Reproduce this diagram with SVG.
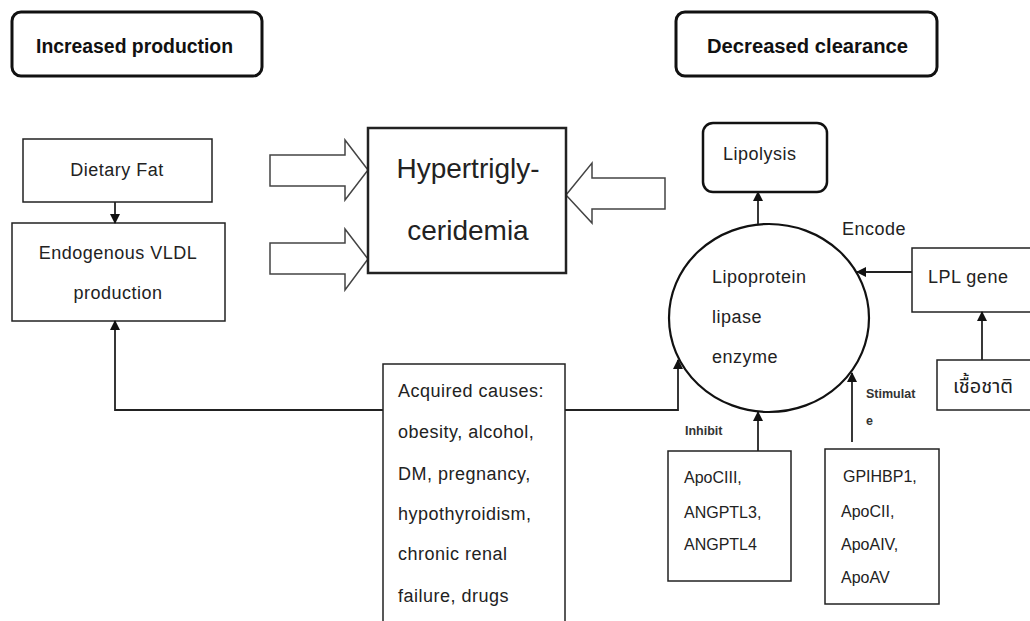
<svg xmlns="http://www.w3.org/2000/svg" width="1030" height="621" viewBox="0 0 1030 621">
<style>
.t{font-family:"Liberation Sans",Arial,sans-serif;font-size:18px;fill:#222;letter-spacing:0.5px}
.s{font-family:"Liberation Sans",Arial,sans-serif;font-size:16px;fill:#222}
.h{font-family:"Liberation Sans",Arial,sans-serif;font-size:20px;font-weight:bold;fill:#111}
.b{font-family:"Liberation Sans",Arial,sans-serif;font-size:12.5px;font-weight:bold;fill:#333}
.box{fill:#fff;stroke:#222;stroke-width:1.5}
.rbox{fill:#fff;stroke:#111;stroke-width:3}
.blk{fill:#fff;stroke:#444;stroke-width:1.5}
.c{fill:none;stroke:#222;stroke-width:1.8}
</style>
<defs>
<marker id="ah" markerWidth="10" markerHeight="10" refX="9" refY="5" orient="auto" markerUnits="userSpaceOnUse">
<path d="M0,0 L10,5 L0,10 Z" fill="#111"/>
</marker>
</defs>
<rect width="1030" height="621" fill="#fff"/>

<g id="header-production">
<rect class="rbox" x="12" y="12" width="250" height="64" rx="9"/>
<text class="h" x="36" y="53" textLength="197" lengthAdjust="spacingAndGlyphs">Increased production</text>
</g>
<g id="header-clearance">
<rect class="rbox" x="676" y="12" width="261" height="64" rx="9"/>
<text class="h" x="707" y="53" textLength="201" lengthAdjust="spacingAndGlyphs">Decreased clearance</text>
</g>

<g id="dietary-fat">
<rect class="box" x="23" y="139" width="189" height="63"/>
<text class="t" x="117" y="176" text-anchor="middle">Dietary Fat</text>
</g>
<g id="vldl">
<rect class="box" x="12" y="223" width="213" height="98"/>
<text class="t" x="118" y="259" text-anchor="middle">Endogenous VLDL</text>
<text class="t" x="118" y="299" text-anchor="middle">production</text>
</g>

<g id="block-arrows">
<polygon class="blk" points="270,155 345,155 345,140 368,170 345,200 345,186 270,186"/>
<polygon class="blk" points="270,243 345,243 345,229 368,259 345,290 345,274 270,274"/>
<polygon class="blk" points="665,178 592,178 592,163 566,195 592,223 592,209 665,209"/>
</g>

<g id="hypertriglyceridemia">
<rect x="368" y="128" width="198" height="145" fill="#fff" stroke="#222" stroke-width="2.5"/>
<text x="468" y="178" text-anchor="middle" style="font-family:'Liberation Sans',Arial,sans-serif;font-size:28px;fill:#222">Hypertrigly-</text>
<text x="468" y="240" text-anchor="middle" style="font-family:'Liberation Sans',Arial,sans-serif;font-size:28px;fill:#222">ceridemia</text>
</g>

<g id="lipolysis">
<rect x="703" y="123" width="124" height="69" rx="10" fill="#fff" stroke="#111" stroke-width="2.5"/>
<text class="t" x="723" y="160">Lipolysis</text>
</g>

<g id="lpl-enzyme">
<ellipse cx="769" cy="318" rx="100" ry="94" fill="#fff" stroke="#111" stroke-width="2.2"/>
<text class="t" x="712" y="283">Lipoprotein</text>
<text class="t" x="712" y="323">lipase</text>
<text class="t" x="712" y="363">enzyme</text>
</g>

<g id="lpl-gene">
<rect class="box" x="912" y="248" width="130" height="64"/>
<text class="t" x="928" y="283">LPL gene</text>
</g>

<g id="race">
<rect class="box" x="937" y="360" width="105" height="50"/>
<text x="953" y="393" style="font-family:'Noto Sans Thai','Noto Sans','DejaVu Sans',sans-serif;font-size:20px;fill:#222">เชื้อชาติ</text>
</g>

<g id="acquired">
<rect class="box" x="383" y="364" width="182" height="270"/>
<text class="t" x="398" y="397">Acquired causes:</text>
<text class="t" x="398" y="438">obesity, alcohol,</text>
<text class="t" x="398" y="480">DM, pregnancy,</text>
<text class="t" x="398" y="520">hypothyroidism,</text>
<text class="t" x="398" y="560">chronic renal</text>
<text class="t" x="398" y="602">failure, drugs</text>
</g>

<g id="inhibitors">
<rect class="box" x="668" y="451" width="123" height="130"/>
<text class="s" x="684" y="483">ApoCIII,</text>
<text class="s" x="684" y="518">ANGPTL3,</text>
<text class="s" x="684" y="550">ANGPTL4</text>
</g>

<g id="stimulators">
<rect class="box" x="825" y="449" width="114" height="155"/>
<text class="s" x="843" y="482">GPIHBP1,</text>
<text class="s" x="841" y="517">ApoCII,</text>
<text class="s" x="841" y="550">ApoAIV,</text>
<text class="s" x="841" y="583">ApoAV</text>
</g>

<g id="connectors">
<line class="c" x1="115" y1="202" x2="115" y2="223" marker-end="url(#ah)"/>
<polyline class="c" points="383,410 115,410 115,321" marker-end="url(#ah)"/>
<polyline class="c" points="565,410 678,410 678,360" marker-end="url(#ah)"/>
<line class="c" x1="758" y1="224" x2="758" y2="192" marker-end="url(#ah)"/>
<line class="c" x1="912" y1="272" x2="857" y2="272" marker-end="url(#ah)"/>
<line class="c" x1="982" y1="360" x2="982" y2="312" marker-end="url(#ah)"/>
<line class="c" x1="758" y1="451" x2="758" y2="412" marker-end="url(#ah)"/>
<line class="c" x1="852" y1="442" x2="852" y2="373" marker-end="url(#ah)"/>
</g>

<g id="labels">
<text class="t" x="842" y="235">Encode</text>
<text class="b" x="685" y="435">Inhibit</text>
<text class="b" x="866" y="398">Stimulat</text>
<text class="b" x="866" y="425">e</text>
</g>
</svg>
